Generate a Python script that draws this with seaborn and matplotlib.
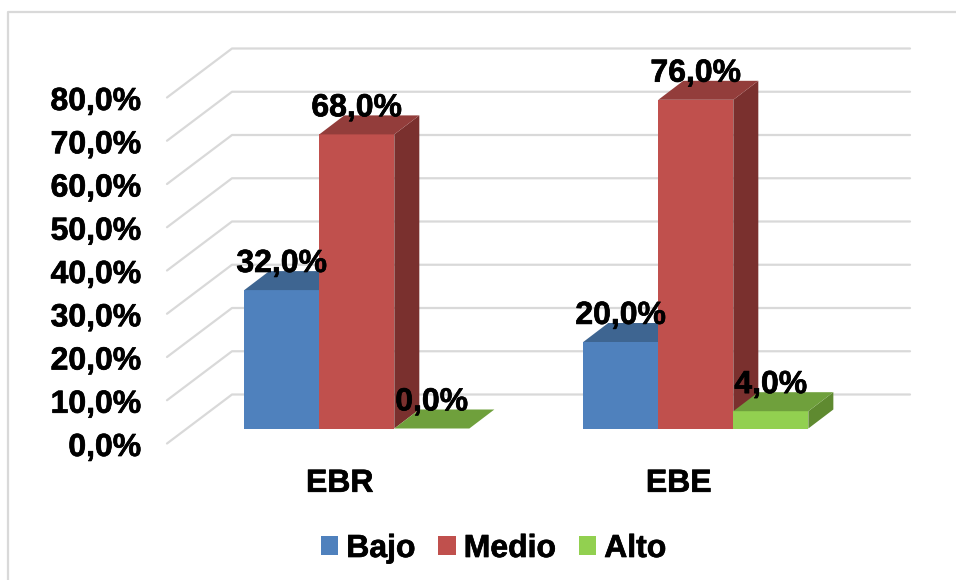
import pandas as pd
import matplotlib
matplotlib.use('Agg')
import matplotlib.pyplot as plt
import matplotlib.patheffects as pe
import seaborn as sns
from matplotlib.lines import Line2D
from matplotlib.patches import Polygon
from matplotlib.transforms import Affine2D, IdentityTransform

# Datos del grafico
grupos = ['EBR', 'EBE']
bajo = [32.0, 20.0]
medio = [68.0, 76.0]
alto = [0.0, 4.0]
marcas_y = [0, 10, 20, 30, 40, 50, 60, 70, 80]

niveles = ['Bajo', 'Medio', 'Alto']
colores = ['#4F81BD', '#C0504D', '#92D050']
colores_arriba = ['#3E6591', '#933D3B', '#6FA03C']
colores_lado = ['#2F4D70', '#7A302E', '#5F8A30']

df = pd.DataFrame({
    'grupo': grupos * 3,
    'nivel': [n for n in niveles for _ in grupos],
    'valor': bajo + medio + alto,
})

sns.set_theme(style='white')
plt.rcParams['font.family'] = ['Liberation Sans', 'DejaVu Sans']

W, H = 956, 580
fig = plt.figure(figsize=(W / 100, H / 100), dpi=100)
ax = fig.add_axes([187.3 / W, (H - 428.5) / H, 678 / W, 346 / H])

sns.barplot(data=df, x='grupo', y='valor', hue='nivel', order=grupos, hue_order=niveles,
            palette=colores, width=0.664, gap=0, saturation=1, linewidth=0, ax=ax)
ax.set_xlim(-0.5, 1.5)
ax.set_ylim(0, 80)
ax.set_xlabel('')
ax.set_ylabel('')
sns.despine(ax=ax, left=True, bottom=True)
fig.canvas.draw()

GRIS = '#D9D9D9'
pix = IdentityTransform()
grueso = [pe.withStroke(linewidth=0.5, foreground='black')]

# Marco exterior
fig.add_artist(Line2D([8, 8, W], [0, H - 12, H - 12], transform=pix, color=GRIS, lw=1.6))

# Rejilla 3D: diagonal del suelo y pared del fondo
for v in marcas_y:
    y0 = ax.transData.transform((0, v))[1]
    ax.add_line(Line2D([167, 232, 910], [y0 - 15, y0 + 34, y0 + 34], transform=pix,
                       color=GRIS, lw=1.6, zorder=1, clip_on=False))

# Caras superior y lateral de cada barra
dx, dy = 25, 19
for i, cont in enumerate(ax.containers):
    for bar in cont:
        bar.set_zorder(3 + i)
        x0, y0 = ax.transData.transform((bar.get_x(), 0))
        x1, y1 = ax.transData.transform((bar.get_x() + bar.get_width(), bar.get_height()))
        arriba = [(x0, y1), (x1, y1), (x1 + dx, y1 + dy), (x0 + dx, y1 + dy)]
        lado = [(x1, y0), (x1 + dx, y0 + dy), (x1 + dx, y1 + dy), (x1, y1)]
        ax.add_patch(Polygon(lado, transform=pix, color=colores_lado[i], lw=0, zorder=3 + i, clip_on=False))
        ax.add_patch(Polygon(arriba, transform=pix, color=colores_arriba[i], lw=0, zorder=3 + i, clip_on=False))
    etiquetas = [f'{b.get_height():.1f}%'.replace('.', ',') for b in cont]
    for t in ax.bar_label(cont, labels=etiquetas, padding=8, fontsize=23, fontweight='bold', color='black'):
        t.set_zorder(10)
        t.set_clip_on(False)
        t.set_path_effects(grueso)

# Ejes: los textos van desplazados porque el grafico es 3D
ax.set_yticks(marcas_y)
ax.set_yticklabels([f'{v:.1f}%'.replace('.', ',') for v in marcas_y])
ax.tick_params(axis='y', length=0, pad=33, labelsize=23, labelcolor='black')
ax.tick_params(axis='x', length=0, pad=29, labelsize=23, labelcolor='black')
for lbl in ax.get_yticklabels():
    lbl.set_fontweight('bold')
    lbl.set_path_effects(grueso)
    lbl.set_transform(lbl.get_transform() + Affine2D().translate(0, -16))
for lbl in ax.get_xticklabels():
    lbl.set_fontweight('bold')
    lbl.set_path_effects(grueso)
    lbl.set_transform(lbl.get_transform() + Affine2D().translate(-17, 0))

sns.move_legend(ax, 'lower left', bbox_to_anchor=(321 / W, (H - 564) / H), bbox_transform=fig.transFigure,
                ncol=3, frameon=False, title=None, prop={'size': 23, 'weight': 'bold'}, labelcolor='black',
                handlelength=0.54, handleheight=0.54, handletextpad=0.25, columnspacing=0.72,
                borderpad=0, borderaxespad=0)
ax.get_legend().set_zorder(10)
for t in ax.get_legend().get_texts():
    t.set_path_effects(grueso)

fig.savefig('out.png', dpi=100, facecolor='white')
